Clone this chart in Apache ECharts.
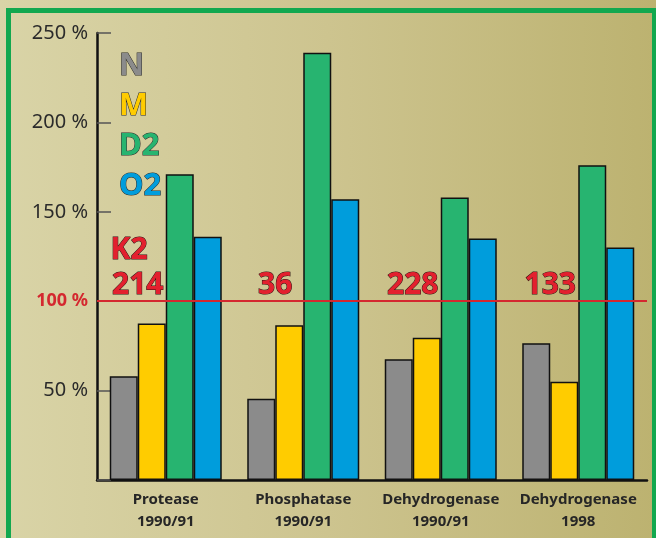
<!DOCTYPE html>
<html>
<head>
<meta charset="utf-8">
<script src="https://cdn.jsdelivr.net/npm/echarts@6/dist/echarts.min.js"></script>
<style>
html,body{margin:0;padding:0;}
#chart{width:656px;height:538px;}
</style>
</head>
<body>
<div id="chart"></div>
<script>
const categories = ['Protease\n1990/91', 'Phosphatase\n1990/91', 'Dehydrogenase\n1990/91', 'Dehydrogenase\n1998'];
const seriesNames = ['N', 'M', 'D2', 'O2'];
const valuesN  = [58, 45.5, 67.5, 76.5];
const valuesM  = [87.5, 86.5, 79.5, 55];
const valuesD2 = [171, 239, 158, 176];
const valuesO2 = [136, 157, 135, 130];
const k2Values = [214, 36, 228, 133];
const referenceLevel = 100;
const yTicks = [0, 50, 100, 150, 200, 250];

const colors = { N: '#8b8b8b', M: '#ffcc00', D2: '#27b470', O2: '#009ddc' };
const FONT = '"Noto Sans", "Open Sans", sans-serif';

const chart = echarts.init(document.getElementById('chart'));

function barSeries(name, data) {
  return {
    name: name,
    type: 'bar',
    data: data,
    barWidth: 28,
    barGap: '0%',
    itemStyle: { color: colors[name], borderColor: '#111', borderWidth: 1.5 },
    emphasis: { disabled: true }
  };
}

const series = [
  barSeries('N', valuesN),
  barSeries('M', valuesM),
  barSeries('D2', valuesD2),
  barSeries('O2', valuesO2)
];
series[3].markLine = {
  silent: true,
  symbol: 'none',
  label: { show: false },
  lineStyle: { color: '#d4282f', width: 2, type: 'solid' },
  data: [{ yAxis: referenceLevel }]
};
series.push({
  name: 'K2',
  type: 'scatter',
  symbolSize: 0,
  z: 10,
  itemStyle: { opacity: 1, color: '#e3202e' },
  emphasis: { disabled: true },
  data: k2Values.map((v, i) => ({ value: [categories[i], referenceLevel], k2: v })),
  label: {
    show: true,
    position: 'top',
    distance: 5,
    offset: [-28, 4],
    opacity: 1,
    formatter: p => String(p.data.k2),
    fontFamily: FONT,
    fontWeight: 'bold',
    fontSize: 30,
    color: '#e3202e',
    textBorderColor: '#2a1010',
    textBorderWidth: 1
  }
});

const option = {
  animation: false,
  backgroundColor: {
    type: 'linear', x: 0, y: 0, x2: 1, y2: 0,
    colorStops: [
      { offset: 0, color: '#d9d4a7' },
      { offset: 0.5, color: '#cdc48f' },
      { offset: 1, color: '#bcb270' }
    ]
  },
  graphic: [
    {
      type: 'rect',
      shape: { x: 8.5, y: 10.5, width: 646, height: 620 },
      style: { fill: 'none', stroke: '#12a84f', lineWidth: 5 },
      silent: true,
      z: 0
    },
    {
      type: 'text',
      left: 110,
      top: 235,
      style: {
        text: 'K2',
        font: 'bold 30px ' + FONT,
        fill: '#e3202e',
        stroke: '#2a1010',
        lineWidth: 1
      },
      z: 10
    }
  ],
  legend: {
    orient: 'vertical',
    left: 108,
    top: 44,
    itemWidth: 0,
    itemHeight: 0,
    itemGap: 5,
    selectedMode: false,
    icon: 'rect',
    itemStyle: { opacity: 0 },
    textStyle: {
      fontFamily: FONT,
      fontWeight: 'bold',
      fontSize: 31,
      lineHeight: 35,
      textBorderColor: '#2a2a2a',
      textBorderWidth: 1
    },
    data: seriesNames.map(n => ({ name: n, textStyle: { color: colors[n] } }))
  },
  grid: { left: 97, right: 9, top: 33, bottom: 58, containLabel: false },
  xAxis: {
    type: 'category',
    data: categories,
    axisLine: { lineStyle: { color: '#111', width: 2.5 } },
    axisTick: { show: false },
    axisLabel: {
      interval: 0,
      hideOverlap: false,
      fontFamily: FONT,
      fontWeight: 'bold',
      fontSize: 15,
      lineHeight: 22,
      color: '#262626',
      margin: 9
    }
  },
  yAxis: {
    type: 'value',
    min: yTicks[0],
    max: yTicks[yTicks.length - 1],
    interval: 50,
    splitLine: { show: false },
    axisLine: { show: true, lineStyle: { color: '#111', width: 2.5 } },
    axisTick: { show: true, inside: true, length: 14, lineStyle: { color: '#555', width: 1.5 } },
    axisLabel: {
      margin: 9,
      fontFamily: FONT,
      fontSize: 20,
      color: '#2b2b2b',
      formatter: v => v === 0 ? '' : (v === referenceLevel ? '{r|' + v + ' %}' : v + ' %'),
      rich: {
        r: { fontFamily: FONT, fontSize: 18, fontWeight: 'bold', color: '#d4282f' }
      }
    }
  },
  series: series
};

chart.setOption(option);
</script>
</body>
</html>
